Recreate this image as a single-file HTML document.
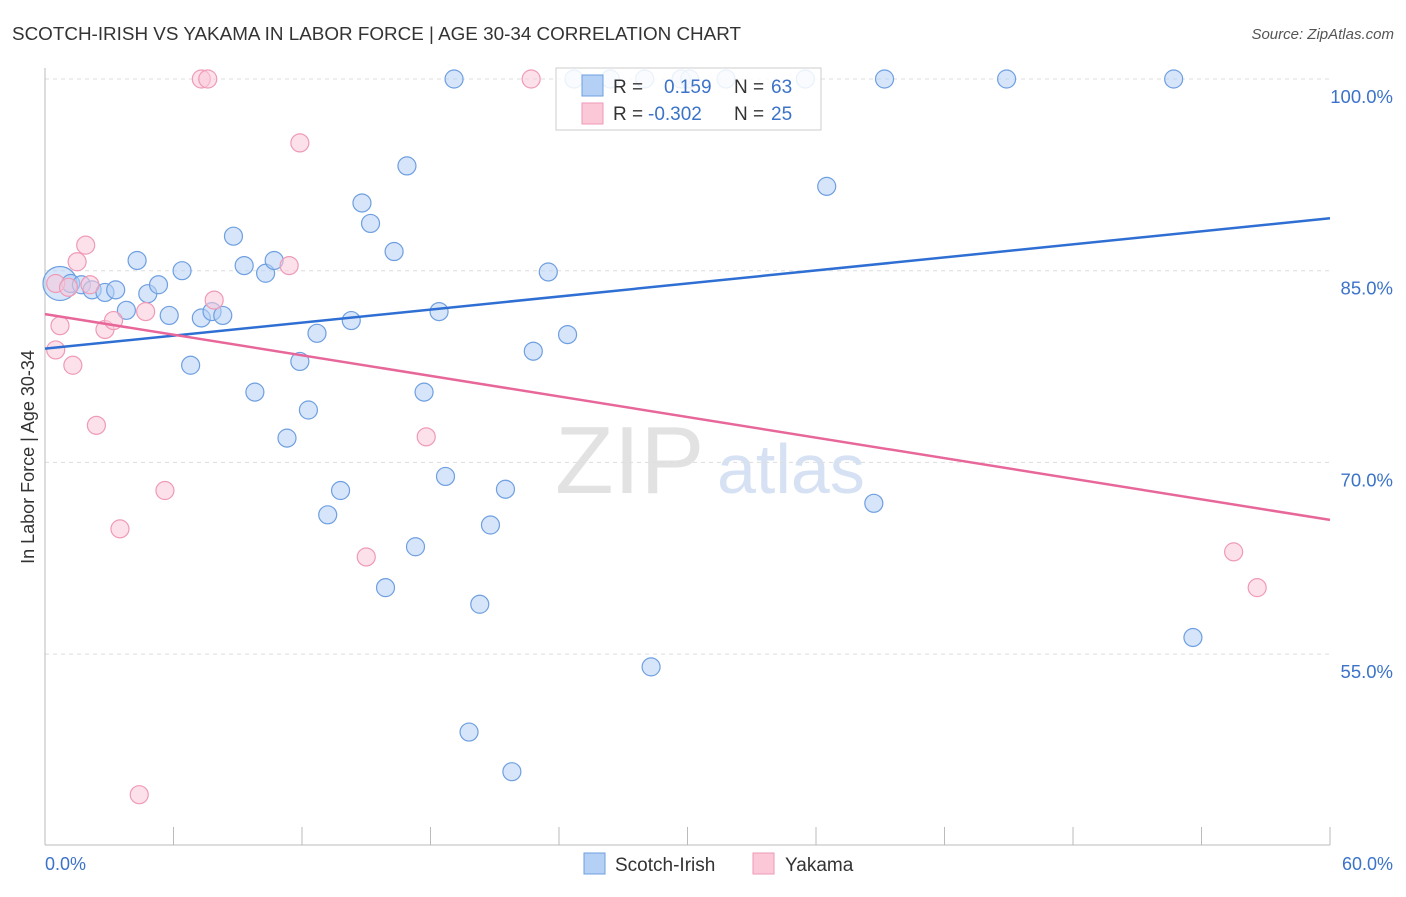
<!DOCTYPE html>
<html><head><meta charset="utf-8"><style>
body{margin:0;background:#fff;font-family:"Liberation Sans",sans-serif;}
svg text{font-family:"Liberation Sans",sans-serif;}
</style></head><body>
<svg width="1406" height="892" xmlns="http://www.w3.org/2000/svg">
<text x="12" y="40" font-size="18" fill="#333" textLength="729" lengthAdjust="spacingAndGlyphs">SCOTCH-IRISH VS YAKAMA IN LABOR FORCE | AGE 30-34 CORRELATION CHART</text>
<text x="1394" y="39" font-size="15" fill="#555" text-anchor="end" font-style="italic">Source: ZipAtlas.com</text>
<text x="555" y="493" font-size="96" fill="#e2e2e2" font-family="Liberation Serif">ZIP</text>
<text x="717" y="493" font-size="70" fill="#d6e2f4">atlas</text>
<g id="grid"></g>
<g id="axes"></g>
<g id="pts"></g>
<g id="trend"></g>
<text transform="translate(34,457) rotate(-90)" font-size="18" fill="#333" text-anchor="middle">In Labor Force | Age 30-34</text>
<text x="45" y="870" font-size="18" fill="#3b73c8">0.0%</text>
<text x="1393" y="870" font-size="18" fill="#3b73c8" text-anchor="end">60.0%</text>
<g>
<rect x="556" y="68" width="265" height="62" fill="#fff" fill-opacity="0.85" stroke="#ccc"/>
<rect x="582" y="75" width="21" height="21" fill="#b5d0f5" stroke="#6e9fe0"/>
<rect x="582" y="103" width="21" height="21" fill="#fbc8d8" stroke="#ef9ab6"/>
<text x="613" y="93" font-size="19" fill="#333">R =</text>
<text x="664" y="93" font-size="19" fill="#3b73c8">0.159</text>
<text x="734" y="93" font-size="19" fill="#333">N =</text>
<text x="771" y="93" font-size="19" fill="#3b73c8">63</text>
<text x="613" y="120" font-size="19" fill="#333">R =</text>
<text x="648" y="120" font-size="19" fill="#3b73c8">-0.302</text>
<text x="734" y="120" font-size="19" fill="#333">N =</text>
<text x="771" y="120" font-size="19" fill="#3b73c8">25</text>
</g>
<g>
<rect x="584" y="853" width="21" height="21" fill="#b5d0f5" stroke="#6e9fe0"/>
<text x="615" y="871" font-size="19" fill="#333">Scotch-Irish</text></g>
<g>
<rect x="753" y="853" width="21" height="21" fill="#fbc8d8" stroke="#ef9ab6"/>
<text x="785" y="871" font-size="19" fill="#333">Yakama</text></g>
</svg>
<script>
const yTicks=[100,85,70,55];
const xTicks=[0,6,12,18,24,30,36,42,48,54,60];
const blueX=[0.7,1.2,1.7,2.2,2.8,3.3,3.8,4.3,4.8,5.3,5.8,6.4,6.8,7.3,7.8,8.3,8.8,9.3,9.8,10.3,10.7,11.3,11.9,12.3,12.7,13.2,13.8,14.3,14.8,15.2,15.9,16.3,16.9,17.3,17.7,18.4,18.7,19.1,20.3,20.8,21.5,21.8,22.8,23.5,24.4,28.3,19.8,36.5,38.7,39.2,44.9,52.7,53.6,24.7,26.4,28.0,29.7,30.1,31.8,35.5];
const blueY=[84.0,84.0,83.9,83.5,83.3,83.5,81.9,85.8,83.2,83.9,81.5,85.0,77.6,81.3,81.8,81.5,87.7,85.4,75.5,84.8,85.8,71.9,77.9,74.1,80.1,65.9,67.8,81.1,90.3,88.7,60.2,86.5,93.2,63.4,75.5,81.8,68.9,100,58.9,65.1,67.9,45.8,78.7,84.9,80.0,54.0,48.9,91.6,66.8,100,100,100,56.3,100,100,100,100,100,100,100];
const pinkX=[0.5,0.7,0.5,1.3,1.5,1.9,2.4,2.8,3.2,3.5,4.4,4.7,5.6,7.3,7.6,7.9,11.4,11.9,15.0,17.8,22.7,55.5,56.6,1.1,2.1];
const pinkY=[84.0,80.7,78.8,77.6,85.7,87.0,72.9,80.4,81.1,64.8,44.0,81.8,67.8,100,100,82.7,85.4,95.0,62.6,72.0,100,63.0,60.2,83.7,83.9];
const blueTrend=[78.9,89.1];
const pinkTrend=[81.6,65.5];
const NS="http://www.w3.org/2000/svg";
const X=v=>45+v/60*1285, Y=v=>79+(100-v)/15*191.7;
function mk(t,a,p){const e=document.createElementNS(NS,t);for(const k in a)e.setAttribute(k,a[k]);document.getElementById(p).appendChild(e);return e;}
yTicks.forEach(v=>{const l=mk('line',{x1:45,x2:1330,y1:Y(v),y2:Y(v),stroke:'#ddd','stroke-dasharray':'4,4'},'grid');


const t=mk('text',{x:1393,y:Y(v)+24,'font-size':18.5,fill:'#3b73c8','text-anchor':'end'},'grid');t.textContent=v.toFixed(1)+'%';

});
const ax=mk('line',{x1:45,x2:45,y1:68,y2:845,stroke:'#bbb'},'axes');


const bx=mk('line',{x1:45,x2:1330,y1:845,y2:845,stroke:'#bbb'},'axes');


xTicks.forEach(v=>{const t=mk('line',{x1:X(v),x2:X(v),y1:827,y2:845,stroke:'#bbb'},'axes');

});
blueX.forEach((x,i)=>{const c=mk('circle',{cx:X(x),cy:Y(blueY[i]),r:i==0?17:9,fill:'#b5d0f5','fill-opacity':0.55,stroke:'#6e9fe0','stroke-width':1.2},'pts');

});
pinkX.forEach((x,i)=>{const c=mk('circle',{cx:X(x),cy:Y(pinkY[i]),r:9,fill:'#fbc8d8','fill-opacity':0.55,stroke:'#ef9ab6','stroke-width':1.2},'pts');

});
const bl=mk('line',{x1:X(0),x2:X(60),y1:Y(blueTrend[0]),y2:Y(blueTrend[1]),stroke:'#2f6fd4','stroke-width':2.5},'trend');


const pl=mk('line',{x1:X(0),x2:X(60),y1:Y(pinkTrend[0]),y2:Y(pinkTrend[1]),stroke:'#e8679a','stroke-width':2.5},'trend');


</script>
</body></html>
